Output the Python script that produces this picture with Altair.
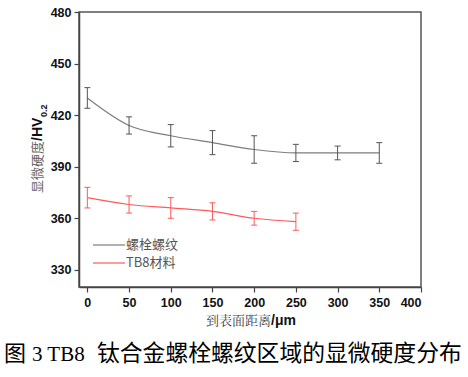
import altair as alt
import pandas as pd

# ---- data ----
dist_bolt = [0, 50, 100, 150, 200, 250, 300, 350]
hv_bolt = [430, 414, 408, 404, 400, 398, 398, 398]
err_bolt = [6, 5, 6.5, 7, 8, 5, 4, 6]

dist_tb8 = [0, 50, 100, 150, 200, 250]
hv_tb8 = [372, 368, 366, 364, 360, 358]
err_tb8 = [6, 5, 6, 5, 4, 5]

series_names = ["螺栓螺纹", "TB8材料"]
line_colors = ["#7d7d7d", "#ff5a5a"]
bar_colors = ["#555555", "#ff5a5a"]

x_ticks = [0, 50, 100, 150, 200, 250, 300, 350, 400]
y_ticks = [330, 360, 390, 420, 450, 480]

y_title_cn = "显微硬度"
y_title_unit = "/HV"
y_title_sub = "0.2"
x_title_cn = "到表面距离"
x_title_unit = "/μm"
caption_a = "图"
caption_b = "3 TB8"
caption_c = "钛合金螺栓螺纹区域的显微硬度分布"


def frame(d, v, e):
    return pd.DataFrame({"d": d, "hv": v,
                         "lo": [a - b for a, b in zip(v, e)],
                         "hi": [a + b for a, b in zip(v, e)]})


df_bolt = frame(dist_bolt, hv_bolt, err_bolt)
df_tb8 = frame(dist_tb8, hv_tb8, err_tb8)

xs = alt.Scale(domain=[-10, 400], nice=False, zero=False)
ys = alt.Scale(domain=[320, 480], nice=False, zero=False)

axis_common = dict(title=None, grid=False, labelFont="Liberation Sans",
                   labelFontWeight="bold", labelFontSize=12.5, labelColor="#111111",
                   tickSize=5, tickColor="#444444", tickWidth=1.2,
                   domainColor="#444444", domainWidth=1.5)

X = alt.X("d:Q", scale=xs, axis=alt.Axis(values=x_ticks, labelPadding=4, **axis_common))
Y = alt.Y("hv:Q", scale=ys, axis=alt.Axis(values=y_ticks, labelPadding=3, **axis_common))


def series_layers(df, lc, bc):
    b = alt.Chart(df)
    line = b.mark_line(color=lc, strokeWidth=1.2, interpolate="monotone").encode(x=X, y=Y)
    bars = b.mark_rule(color=bc, strokeWidth=1).encode(
        x=alt.X("d:Q", scale=xs), y=alt.Y("lo:Q", scale=ys), y2="hi:Q")
    cap_lo = b.mark_rule(color=bc, strokeWidth=1, xOffset=-3, x2Offset=3).encode(
        x=alt.X("d:Q", scale=xs), x2="d:Q", y=alt.Y("lo:Q", scale=ys))
    cap_hi = b.mark_rule(color=bc, strokeWidth=1, xOffset=-3, x2Offset=3).encode(
        x=alt.X("d:Q", scale=xs), x2="d:Q", y=alt.Y("hi:Q", scale=ys))
    return [line, bars, cap_lo, cap_hi]


layers = series_layers(df_bolt, line_colors[0], bar_colors[0]) + \
    series_layers(df_tb8, line_colors[1], bar_colors[1])

# ---- legend (inside plot, lower left) ----
leg_df = pd.DataFrame({"name": series_names, "col": line_colors, "yy": [233, 251]})
leg_lines = alt.Chart(leg_df).mark_rule(strokeWidth=1.2).encode(
    x=alt.value(14), x2=alt.value(46), y=alt.Y("yy:Q", scale=None),
    color=alt.Color("col:N", scale=None))
leg_text = alt.Chart(leg_df).mark_text(align="left", baseline="middle", fontSize=13,
                                       font="Noto Sans CJK SC", color="#555555", dx=1).encode(
    x=alt.value(46), y=alt.Y("yy:Q", scale=None), text="name:N")


def txt(s, x, y, **kw):
    return alt.Chart(pd.DataFrame({"t": [s]})).mark_text(**kw).encode(
        x=alt.value(x), y=alt.value(y), text="t:N")


# y title (rotated)
yt1 = txt(y_title_cn, -41, 129, angle=270, align="right", baseline="middle",
          fontSize=13, font="Noto Sans CJK SC", color="#666666")
yt2 = txt(y_title_unit, -41, 129, angle=270, align="left", baseline="middle",
          fontSize=14, font="Liberation Sans", fontWeight="bold", color="#111111")
yt3 = txt(y_title_sub, -35, 105, angle=270, align="left", baseline="middle",
          fontSize=9, font="Liberation Sans", fontWeight="bold", color="#111111")

# x title
xt1 = txt(x_title_cn, 192, 309, align="right", baseline="middle",
          fontSize=13, font="Noto Serif CJK SC, Noto Sans CJK SC", color="#444444")
xt2 = txt(x_title_unit, 192, 309, align="left", baseline="middle",
          fontSize=14, font="Liberation Sans", fontWeight="bold", color="#111111")

# caption
c1 = txt(caption_a, -75, 342, align="left", baseline="middle", fontSize=22,
         font="Noto Sans CJK SC", color="#000000")
c2 = txt(caption_b, -47, 343, align="left", baseline="middle", fontSize=21,
         font="Liberation Serif", color="#000000")
c3 = txt(caption_c, 18, 342, align="left", baseline="middle", fontSize=22.8,
         font="Noto Sans CJK SC", color="#000000")

chart = alt.layer(*layers, leg_lines, leg_text, yt1, yt2, yt3, xt1, xt2, c1, c2, c3).properties(
    width=342, height=275, autosize="none",
    padding={"left": 79, "top": 12, "right": 47, "bottom": 90},
    background="white",
).configure_view(stroke="#555555", strokeWidth=1.5)

chart.save("out.html", embed_options={"renderer": "svg", "actions": False})
